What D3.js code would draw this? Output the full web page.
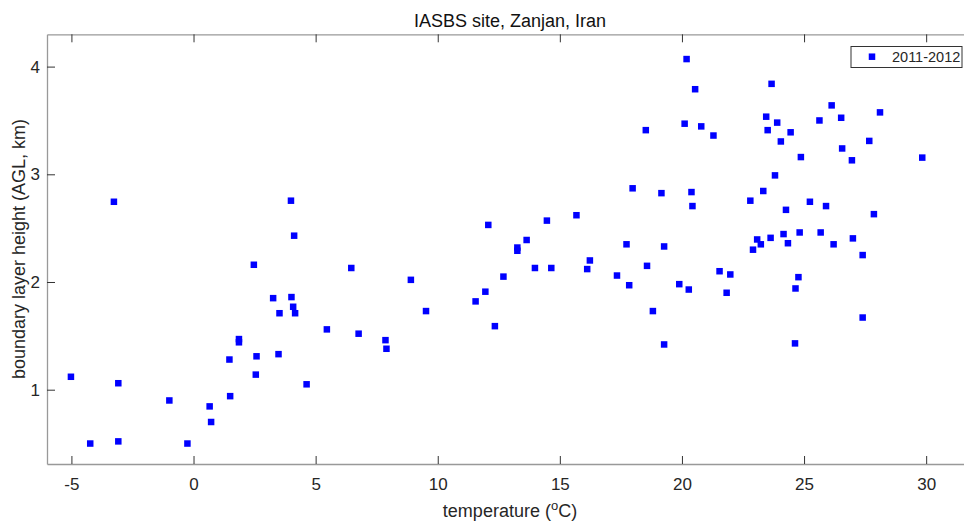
<!DOCTYPE html>
<html>
<head>
<meta charset="utf-8">
<script src="https://cdn.jsdelivr.net/npm/d3@7"></script>
<style>
  body { margin: 0; background: #fff; }
  svg { display: block; font-family: "Liberation Sans", Arial, sans-serif; }
</style>
</head>
<body>
<svg id="chart" width="964" height="527"></svg>
<script>
// temperature (degC) and boundary layer height (km)
var temperature = [
  -5.02, -4.23, -3.08, -3.08, -3.26, -0.99, -0.25, 0.66, 0.72, 1.47,
  1.50, 1.86, 1.86, 2.47, 2.58, 2.55, 3.26, 3.52, 3.48, 4.01,
  4.08, 4.16, 4.63, 5.46, 3.99, 4.12, 6.46, 6.76, 7.86, 7.90,
  8.90, 9.52, 11.55, 11.95, 12.34, 12.69, 12.07, 13.26, 13.26, 13.64,
  13.98, 14.47, 14.65, 15.68, 16.12, 16.23, 17.34, 17.73, 17.84, 17.98,
  18.52, 18.57, 18.81, 19.27, 19.16, 19.27, 19.89, 20.28, 20.19, 20.54,
  20.11, 20.79, 21.29, 20.39, 20.43, 21.54, 21.98, 21.83, 22.80, 22.91,
  23.08, 23.23, 23.33, 23.45, 23.51, 23.63, 23.67, 23.81, 23.90, 24.05,
  24.16, 24.26, 24.34, 24.45, 24.63, 24.65, 24.77, 24.82, 24.87, 25.24,
  25.63, 25.68, 25.90, 26.13, 26.21, 26.52, 26.56, 26.96, 27.00, 27.40,
  27.40, 27.67, 27.86, 28.11, 29.84
];
var blh = [
  1.12, 0.50, 1.06, 0.52, 2.745, 0.90, 0.50, 0.845, 0.70, 1.28,
  0.94, 1.47, 1.44, 2.16, 1.31, 1.14, 1.85, 1.71, 1.33, 1.86,
  1.77, 1.71, 1.05, 1.56, 2.755, 2.43, 2.13, 1.52, 1.46, 1.38,
  2.02, 1.73, 1.82, 1.91, 1.59, 2.05, 2.53, 2.32, 2.29, 2.39,
  2.13, 2.57, 2.13, 2.62, 2.12, 2.20, 2.06, 2.35, 1.97, 2.87,
  3.41, 2.15, 1.73, 1.42, 2.825, 2.33, 1.98, 1.93, 4.07, 3.79,
  3.47, 3.445, 3.36, 2.835, 2.705, 2.10, 2.07, 1.90, 2.755, 2.30,
  2.395, 2.35, 2.845, 3.535, 3.41, 2.41, 3.84, 2.99, 3.48, 3.305,
  2.445, 2.67, 2.36, 3.39, 1.43, 1.94, 2.045, 2.46, 3.16, 2.745,
  3.50, 2.46, 2.705, 3.64, 2.35, 3.525, 3.24, 3.13, 2.405, 2.25,
  1.67, 3.31, 2.63, 3.575, 3.155
];
var xTicks = [-5, 0, 5, 10, 15, 20, 25, 30];
var yTicks = [1, 2, 3, 4];
var seriesName = "2011-2012";

var data = temperature.map(function (t, i) { return { t: t, h: blh[i] }; });

var svg = d3.select("#chart");
var margin = { top: 34.3, left: 47 };
var width = 928, height = 429.7;

var g = svg.append("g").attr("transform", "translate(" + margin.left + "," + margin.top + ")");

var x = d3.scaleLinear().domain([-6, 32]).range([0, width]);
var y = d3.scaleLinear().domain([0.31, 4.3]).range([height, 0]);

// axes (MATLAB style: inward ticks, box)
function styleAxis(sel) {
  sel.select(".domain").attr("stroke", "#999").attr("stroke-width", 1.3);
  sel.selectAll(".tick line").attr("stroke", "#333");
  sel.selectAll(".tick text")
    .style("font-size", "17px")
    .style("font-family", "'Liberation Sans', Arial, sans-serif")
    .attr("fill", "#262626");
}

// plain hyphen for negatives, like the original
var fmt = function (d) { return String(d); };

g.append("g")
  .attr("transform", "translate(0," + height + ")")
  .call(d3.axisBottom(x).tickValues(xTicks).tickFormat(fmt).tickSizeInner(-8).tickSizeOuter(0).tickPadding(14))
  .call(styleAxis);

g.append("g")
  .call(d3.axisTop(x).tickValues(xTicks).tickSizeInner(-8).tickSizeOuter(0).tickFormat(""))
  .call(styleAxis);

g.append("g")
  .call(d3.axisLeft(y).tickValues(yTicks).tickFormat(fmt).tickSizeInner(-8).tickSizeOuter(0).tickPadding(7))
  .call(styleAxis);

g.append("g")
  .attr("transform", "translate(" + width + ",0)")
  .call(d3.axisRight(y).tickValues(yTicks).tickSizeInner(-8).tickSizeOuter(0).tickFormat(""))
  .call(styleAxis);

// markers
var ms = 6.5;
g.append("g").selectAll("rect")
  .data(data)
  .join("rect")
  .attr("x", function (d) { return x(d.t) - ms / 2; })
  .attr("y", function (d) { return y(d.h) - ms / 2; })
  .attr("width", ms)
  .attr("height", ms)
  .attr("fill", "#0000ff");

// title and labels
svg.append("text")
  .attr("x", 510).attr("y", 26.5)
  .attr("text-anchor", "middle")
  .attr("font-size", 18)
  .attr("fill", "#111")
  .text("IASBS site, Zanjan, Iran");

var xl = svg.append("text")
  .attr("x", 510).attr("y", 517)
  .attr("text-anchor", "middle")
  .attr("font-size", 18)
  .attr("fill", "#262626");
xl.append("tspan").text("temperature (");
xl.append("tspan").attr("font-size", 13).attr("dy", -7).text("o");
xl.append("tspan").attr("dy", 7).text("C)");

svg.append("text")
  .attr("transform", "translate(25,249) rotate(-90)")
  .attr("text-anchor", "middle")
  .attr("font-size", 18)
  .attr("fill", "#262626")
  .text("boundary layer height (AGL, km)");

// legend
var leg = svg.append("g");
leg.append("rect")
  .attr("x", 851).attr("y", 46.5)
  .attr("width", 111).attr("height", 21)
  .attr("fill", "#fff").attr("stroke", "#333").attr("stroke-width", 1);
leg.append("rect")
  .attr("x", 872 - ms / 2).attr("y", 56.7 - ms / 2)
  .attr("width", ms).attr("height", ms)
  .attr("fill", "#0000ff");
leg.append("text")
  .attr("x", 892).attr("y", 62)
  .attr("font-size", 14.5)
  .attr("fill", "#262626")
  .text(seriesName);
</script>
</body>
</html>
